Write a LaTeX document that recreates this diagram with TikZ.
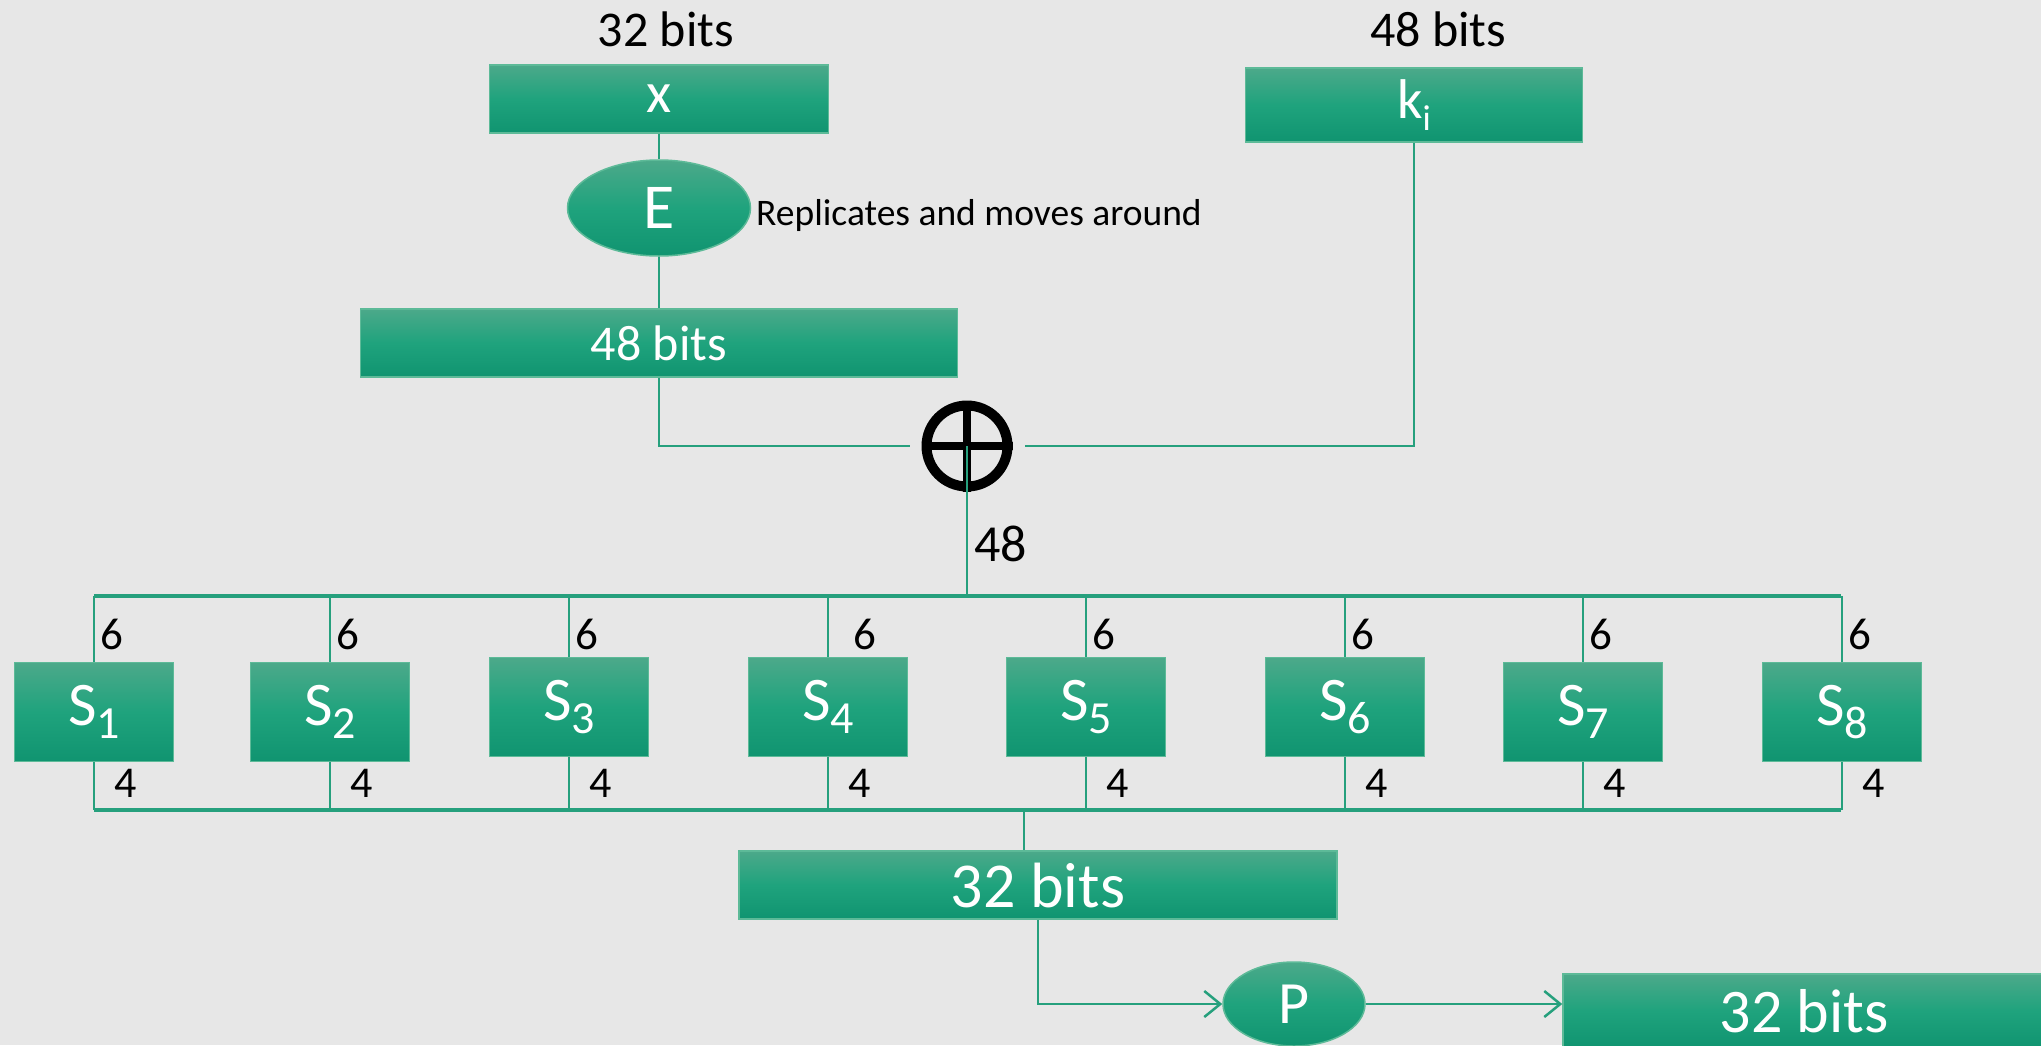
\documentclass[tikz,border=0pt]{standalone}
\usepackage{fontspec}
\setmainfont{Carlito}
\usetikzlibrary{shapes.geometric,arrows.meta}
\definecolor{bg}{HTML}{E7E7E7}
\definecolor{boxtop}{HTML}{4CA98A}
\definecolor{boxmid}{HTML}{1FA37D}
\definecolor{boxbot}{HTML}{109470}
\definecolor{boxedge}{HTML}{5DBA98}
\definecolor{wire}{HTML}{26A07D}
\newcommand\fsz[1]{\fontsize{#1}{#1}\selectfont}
\newcommand\sname[1]{S\raisebox{-13pt}{\fsz{46}#1}}
\tikzset{
  gbox/.style={draw=boxedge, line width=1.5pt, top color=boxtop, bottom color=boxbot,
    middle color=boxmid, text=white, inner sep=0pt},
  gell/.style={gbox, ellipse},
  wireline/.style={draw=wire, line width=2.5pt},
  busline/.style={draw=wire, line width=4pt},
  arr/.style={wireline, -{Straight Barb[length=16pt,width=26pt,line width=2.5pt]}},
  lab/.style={text=black, inner sep=0pt},
  sb/.style={gbox, minimum width=159pt, minimum height=99pt, font=\fsz{62}},
}
\begin{document}
\begin{tikzpicture}[x=1pt,y=-1pt]
  \useasboundingbox (0,0) rectangle (2041,1045);
  \clip (0,0) rectangle (2041,1045);
  \fill[bg] (0,0) rectangle (2041,1045);

  % input half block, expansion and key
  \node[lab, font=\fsz{50}] (lx) at (666,29) {32 bits};
  \node[gbox, minimum width=339pt, minimum height=68pt, font=\fsz{58}] (x) at (659,99) {\raisebox{-6pt}{x}};
  \node[gell, minimum width=183pt, minimum height=96pt, font=\fsz{64}] (E) at (659,208) {E};
  \node[lab, anchor=west, font=\fsz{37.5}] (rep) at (756,215) {Replicates and moves around};
  \node[gbox, minimum width=597pt, minimum height=68pt, font=\fsz{50}] (b48) at (659,343) {48 bits};

  \node[lab, font=\fsz{50}] (lk) at (1438,29) {48 bits};
  \node[gbox, minimum width=337pt, minimum height=74pt, font=\fsz{56}] (k) at (1414,105) {\raisebox{-3pt}{k\raisebox{-12pt}{\fsz{36}i}}};

  % XOR
  \node[circle, draw=black, line width=10pt, minimum size=81pt, inner sep=0pt] (xor) at (967,446) {};
  \draw[black, line width=8pt] (xor.north) -- (xor.south);
  \draw[black, line width=8pt] (xor.west) -- (xor.east);

  \draw[wireline] (x.south) -- (E.north);
  \draw[wireline] (E.south) -- (b48.north);
  \draw[wireline] (b48.south) |- ([xshift=-12pt]xor.west);
  \draw[wireline] (k.south) |- ([xshift=12pt]xor.east);
  \draw[wireline] (xor.center) -- (967,596);
  \node[lab, anchor=west, font=\fsz{52}] (l48) at (974,544) {48};

  % S-boxes
  \coordinate (tl) at (94,596);
  \coordinate (tr) at (1841,596);
  \coordinate (bl) at (94,810);
  \coordinate (br) at (1841,810);
  \draw[busline] (tl) -- (tr);
  \draw[busline] (bl) -- (br);

  \node[sb] (s1) at (94,712) {\sname{1}};
  \node[sb] (s2) at (330,712) {\sname{2}};
  \node[sb] (s3) at (569,707) {\sname{3}};
  \node[sb] (s4) at (828,707) {\sname{4}};
  \node[sb] (s5) at (1086,707) {\sname{5}};
  \node[sb] (s6) at (1345,707) {\sname{6}};
  \node[sb] (s7) at (1583,712) {\sname{7}};
  \node[sb] (s8) at (1842,712) {\sname{8}};

  \foreach \s/\d in {s1/6,s2/6,s3/6,s4/25,s5/6,s6/6,s7/6,s8/6} {
    \draw[wireline] (\s.north |- tl) -- (\s.north);
    \draw[wireline] (\s.south) -- (\s.south |- bl);
    \node[lab, anchor=west, font=\fsz{45}] at ([xshift=\d pt]\s.north |- 0,634) {6};
    \node[lab, anchor=west, font=\fsz{44}] at ([xshift=20pt]\s.south |- 0,783) {4};
  }

  % permutation and output
  \node[gbox, minimum width=598pt, minimum height=68pt, font=\fsz{64}] (b32) at (1038,885) {32 bits};
  \coordinate (m) at (1024,810);
  \draw[wireline] (m) -- (m |- b32.north);
  \node[gell, minimum width=142pt, minimum height=84pt, font=\fsz{60}] (P) at (1294,1004) {P};
  \node[gbox, minimum width=482pt, minimum height=74pt, font=\fsz{62}] (out) at (1804,1011) {32 bits};
  \draw[arr] (b32.south) |- (P.west);
  \draw[arr] (P.east) -- (P.east -| out.west);
\end{tikzpicture}
\end{document}
